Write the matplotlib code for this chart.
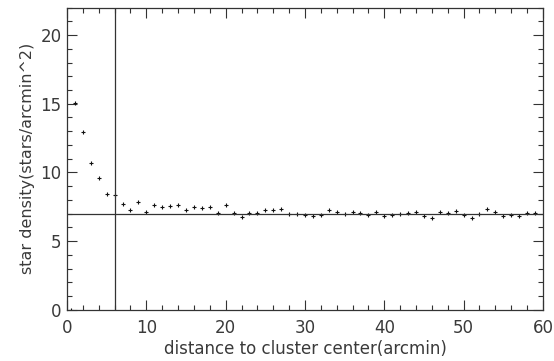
import numpy as np
import matplotlib
matplotlib.use('Agg')
import matplotlib.pyplot as plt
from matplotlib.ticker import MultipleLocator

# radial bins (arcmin) and measured star density
dist = [0.5, 1, 2, 3, 4, 5, 6, 7, 8, 9, 10, 11, 12, 13, 14, 15, 16, 17, 18, 19,
        20, 21, 22, 23, 24, 25, 26, 27, 28, 29, 30, 31, 32, 33, 34, 35, 36, 37, 38, 39,
        40, 41, 42, 43, 44, 45, 46, 47, 48, 49, 50, 51, 52, 53, 54, 55, 56, 57, 58, 59]
density = [0.0, 15.08, 12.92, 10.71, 9.59, 8.43, 8.38, 7.72, 7.28, 7.82, 7.12, 7.63, 7.48, 7.53, 7.60,
           7.28, 7.46, 7.39, 7.46, 7.02, 7.63, 7.02, 6.77, 7.02, 7.02, 7.24, 7.26, 7.33, 6.97, 6.97,
           6.88, 6.82, 6.90, 7.24, 7.12, 6.95, 7.09, 7.04, 6.90, 7.12, 6.82, 6.90, 6.99, 7.06, 7.12,
           6.80, 6.70, 7.09, 7.02, 7.17, 6.92, 6.70, 6.99, 7.31, 7.12, 6.85, 6.92, 6.85, 7.06, 7.06]

core_radius = 6      # vertical marker
background = 7.0     # field density level

fig = plt.figure(figsize=(5.54, 3.61), dpi=100)
ax = fig.add_axes([0.121, 0.142, 0.859, 0.837])

lc = '#333333'
tc = '#3a3a3a'
ax.plot(dist, density, linestyle='none', marker='+', ms=2.5, mew=0.8, color='#111111')
ax.axvline(core_radius, color=lc, lw=0.9)
ax.axhline(background, color=lc, lw=0.9)

ax.set_xlim(0, 60)
ax.set_ylim(0, 22)
ax.xaxis.set_major_locator(MultipleLocator(10))
ax.xaxis.set_minor_locator(MultipleLocator(2))
ax.yaxis.set_major_locator(MultipleLocator(5))
ax.yaxis.set_minor_locator(MultipleLocator(1))
ax.tick_params(which='both', direction='in', top=True, right=True, color=lc, width=0.8,
               labelsize=12, labelcolor=tc)
ax.tick_params(which='major', length=7)
ax.tick_params(which='minor', length=3.5)
ax.tick_params(axis='x', pad=7)
ax.tick_params(axis='y', pad=4)
for s in ax.spines.values():
    s.set_color(lc)
    s.set_linewidth(0.9)

ax.set_xlabel('distance to cluster center(arcmin)', fontsize=12, color=tc, labelpad=2)
ax.set_ylabel('star density(stars/arcmin^2)', fontsize=11.5, color=tc, labelpad=4)

fig.savefig('out.png', dpi=100)
